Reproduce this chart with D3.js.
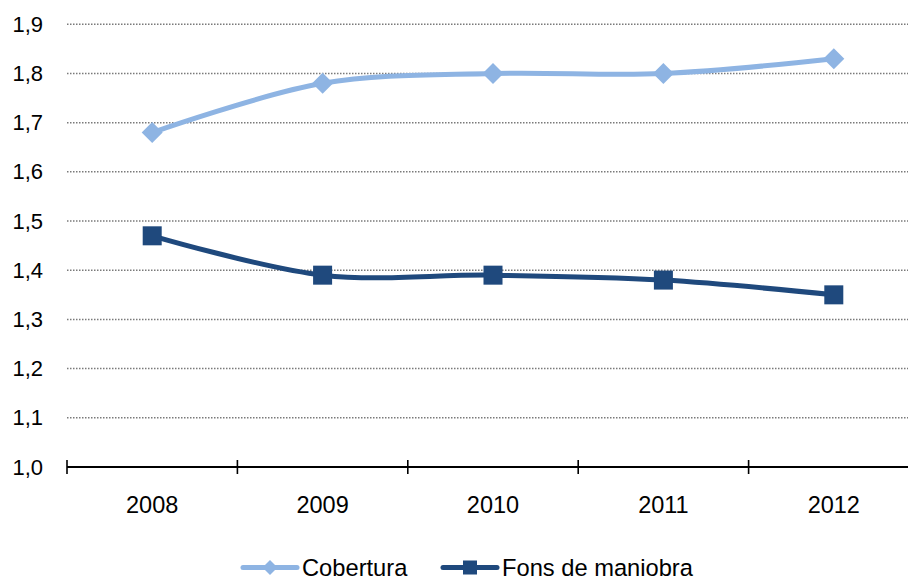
<!DOCTYPE html>
<html>
<head>
<meta charset="utf-8">
<script src="https://cdn.jsdelivr.net/npm/d3@7"></script>
<style>
  html, body { margin: 0; padding: 0; background: #fff; }
  svg { display: block; font-family: "Liberation Sans", Arial, sans-serif; }
</style>
</head>
<body>
<svg id="chart" width="908" height="578"></svg>
<script>
// Years on the category axis
const years = ["2008", "2009", "2010", "2011", "2012"];
// Series values
const cobertura = [1.68, 1.78, 1.80, 1.80, 1.83];
const fonsManiobra = [1.47, 1.39, 1.39, 1.38, 1.35];
// Value axis ticks
const yTicks = [1.0, 1.1, 1.2, 1.3, 1.4, 1.5, 1.6, 1.7, 1.8, 1.9];

const series = [
  { name: "Cobertura", values: cobertura, color: "#8EB4E3", marker: "diamond" },
  { name: "Fons de maniobra", values: fonsManiobra, color: "#1F497D", marker: "square" }
];

const svg = d3.select("#chart");
const plotLeft = 67, plotRight = 919, plotTop = 24.3, plotBottom = 467;

const x = d3.scaleBand().domain(years).range([plotLeft, plotRight]);
const y = d3.scaleLinear().domain([1.0, 1.9]).range([plotBottom, plotTop]);
const fmt = v => d3.format(".1f")(v).replace(".", ",");

// Dotted horizontal gridlines
svg.append("g")
  .selectAll("line")
  .data(yTicks.filter(t => t > 1.0))
  .join("line")
  .attr("x1", plotLeft).attr("x2", 908)
  .attr("y1", d => y(d)).attr("y2", d => y(d))
  .attr("stroke", "#7a7a7a")
  .attr("stroke-width", 1.5)
  .attr("stroke-dasharray", "1.5,1.5");

// Value axis labels
const yAxis = d3.axisLeft(y).tickValues(yTicks).tickFormat(fmt).tickSize(0).tickPadding(0);
svg.append("g")
  .attr("transform", `translate(43,0)`)
  .call(yAxis)
  .call(g => g.select(".domain").remove())
  .selectAll("text")
  .attr("font-size", 22)
  .attr("fill", "#000")
  .attr("font-family", "Liberation Sans, Arial, sans-serif");

// Category axis line with crossing tick marks at band edges
const xg = svg.append("g");
xg.append("line")
  .attr("x1", plotLeft).attr("x2", plotRight)
  .attr("y1", plotBottom).attr("y2", plotBottom)
  .attr("stroke", "#000").attr("stroke-width", 2);
const edges = years.map(d => x(d)).concat([x(years[years.length - 1]) + x.bandwidth()]);
xg.selectAll("line.tick")
  .data(edges)
  .join("line")
  .attr("class", "tick")
  .attr("x1", d => d).attr("x2", d => d)
  .attr("y1", plotBottom - 7).attr("y2", plotBottom + 7)
  .attr("stroke", "#000").attr("stroke-width", 1.6);
xg.selectAll("text")
  .data(years)
  .join("text")
  .attr("x", d => x(d) + x.bandwidth() / 2)
  .attr("y", 513)
  .attr("text-anchor", "middle")
  .attr("font-size", 23.5)
  .attr("fill", "#000")
  .text(d => d);

const cx = d => x(d) + x.bandwidth() / 2;
const line = d3.line()
  .x((v, i) => cx(years[i]))
  .y(v => y(v))
  .curve(d3.curveCatmullRom.alpha(0.5));

function drawMarker(sel, kind, color) {
  if (kind === "diamond") {
    sel.append("path")
      .attr("d", "M0,-10.5L10.5,0L0,10.5L-10.5,0Z")
      .attr("fill", color);
  } else {
    sel.append("rect")
      .attr("x", -9.5).attr("y", -9.5)
      .attr("width", 19).attr("height", 19)
      .attr("fill", color);
  }
}

series.forEach(s => {
  svg.append("path")
    .datum(s.values)
    .attr("d", line)
    .attr("fill", "none")
    .attr("stroke", s.color)
    .attr("stroke-width", 5)
    .attr("stroke-linejoin", "round");
  svg.append("g")
    .selectAll("g")
    .data(s.values)
    .join("g")
    .attr("transform", (v, i) => `translate(${cx(years[i])},${y(v)})`)
    .each(function () { drawMarker(d3.select(this), s.marker, s.color); });
});

// Legend
const legendItems = [
  { s: series[0], x0: 243 },
  { s: series[1], x0: 443 }
];
const ly = 567.5;
legendItems.forEach(({ s, x0 }) => {
  const g = svg.append("g");
  g.append("line")
    .attr("x1", x0).attr("x2", x0 + 54)
    .attr("y1", ly).attr("y2", ly)
    .attr("stroke", s.color).attr("stroke-width", 5)
    .attr("stroke-linecap", "round");
  const m = g.append("g").attr("transform", `translate(${x0 + 27},${ly})`);
  if (s.marker === "diamond") {
    m.append("path").attr("d", "M0,-7.5L7.5,0L0,7.5L-7.5,0Z").attr("fill", s.color);
  } else {
    m.append("rect").attr("x", -7).attr("y", -7).attr("width", 14).attr("height", 14).attr("fill", s.color);
  }
  g.append("text")
    .attr("x", x0 + 59)
    .attr("y", ly + 8.5)
    .attr("font-size", 23.7)
    .attr("fill", "#000")
    .text(s.name);
});
</script>
</body>
</html>
